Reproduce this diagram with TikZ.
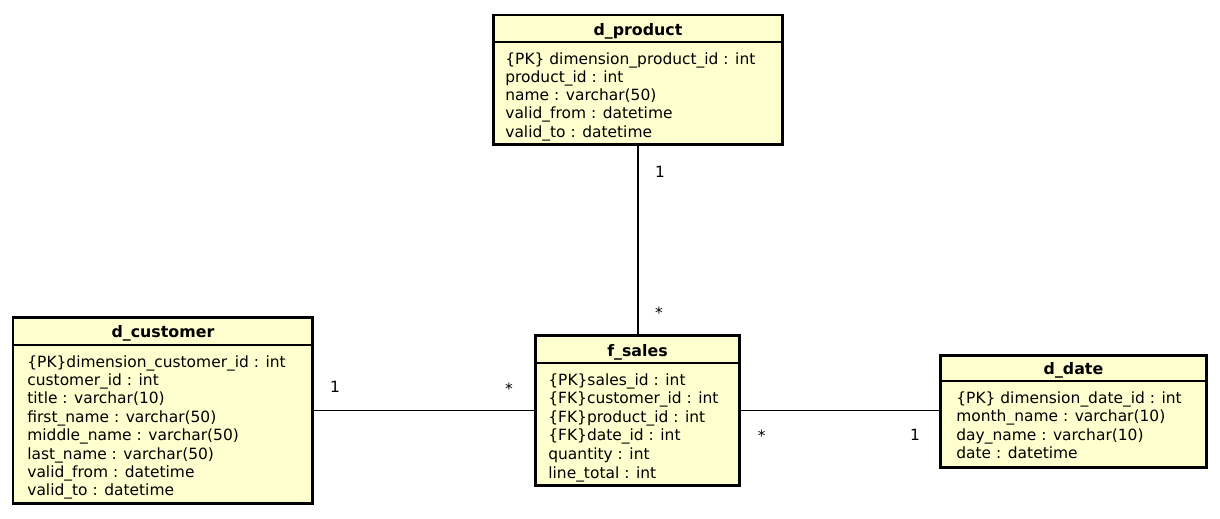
\documentclass[tikz,border=0pt]{standalone}
\usepackage{fontspec}
\setmainfont{DejaVu Sans}
\definecolor{classbg}{HTML}{FEFECE}

\begin{document}
\begin{tikzpicture}[x=0.02cm,y=-0.02cm,
    classbox/.style={draw=black,line width=1.7pt,fill=classbg,anchor=north west,inner sep=0pt,outer sep=0pt},
    sepline/.style={line width=0.6pt},
    title/.style={font=\fontsize{9}{11}\selectfont\bfseries,anchor=base,inner sep=0pt},
    attr/.style={font=\fontsize{8.8}{10.5}\selectfont,anchor=base west,inner sep=0pt},
    mult/.style={font=\fontsize{8.8}{10.5}\selectfont,anchor=base,inner sep=0pt},
    assoc/.style={line width=0.6pt}]
  \useasboundingbox (0,0) rectangle (1220,518);

  \node[classbox,minimum width=5.8cm,minimum height=2.6cm] (product) at (493,15) {};
  \node[classbox,minimum width=6cm,minimum height=3.74cm] (customer) at (13,317) {};
  \node[classbox,minimum width=4.1cm,minimum height=3cm] (sales) at (535,335.5) {};
  \node[classbox,minimum width=5.34cm,minimum height=2.26cm] (date) at (940,355) {};

  \draw[sepline] (product.west |- 0,42) -- (product.east |- 0,42);
  \draw[sepline] (customer.west |- 0,345) -- (customer.east |- 0,345);
  \draw[sepline] (sales.west |- 0,363) -- (sales.east |- 0,363);
  \draw[sepline] (date.west |- 0,381) -- (date.east |- 0,381);

  \node[title] (producttitle) at (product.north |- 0,35) {d\_product};
  \node[title] (customertitle) at (customer.north |- 0,337) {d\_customer};
  \node[title] (salestitle) at (sales.north |- 0,356) {f\_sales};
  \node[title] (datetitle) at (date.north |- 0,374) {d\_date};

  \foreach \txt [count=\i from 0] in {{\{PK\} dimension\_product\_id : int},{product\_id : int},
      {name : varchar(50)},{valid\_from : datetime},{valid\_to : datetime}}
    \node[attr] (pa\i) at (505,64+18.3*\i) {\txt};
  \foreach \txt [count=\i from 0] in {{\{PK\}dimension\_customer\_id : int},{customer\_id : int},
      {title : varchar(10)},{first\_name : varchar(50)},{middle\_name : varchar(50)},
      {last\_name : varchar(50)},{valid\_from : datetime},{valid\_to : datetime}}
    \node[attr] (ca\i) at (27,367+18.4*\i) {\txt};
  \foreach \txt [count=\i from 0] in {{\{PK\}sales\_id : int},{\{FK\}customer\_id : int},
      {\{FK\}product\_id : int},{\{FK\}date\_id : int},{quantity : int},{line\_total : int}}
    \node[attr] (sa\i) at (548,385+18.6*\i) {\txt};
  \foreach \txt [count=\i from 0] in {{\{PK\} dimension\_date\_id : int},{month\_name : varchar(10)},
      {day\_name : varchar(10)},{date : datetime}}
    \node[attr] (da\i) at (956,403+18.6*\i) {\txt};

  \draw[assoc] (product.south) -- (product.south |- sales.north);
  \draw[assoc] (customer.east) -- (customer.east -| sales.west);
  \draw[assoc] (sales.east) -- (sales.east -| date.west);

  \node[mult] (productone) at (660,177.4) {1};
  \node[mult] (salestop) at (659,318) {*};
  \node[mult] (customerone) at (335,392.4) {1};
  \node[mult] (salesleft) at (509,394) {*};
  \node[mult] (salesright) at (761.7,441.7) {*};
  \node[mult] (dateone) at (915,440) {1};
\end{tikzpicture}
\end{document}
